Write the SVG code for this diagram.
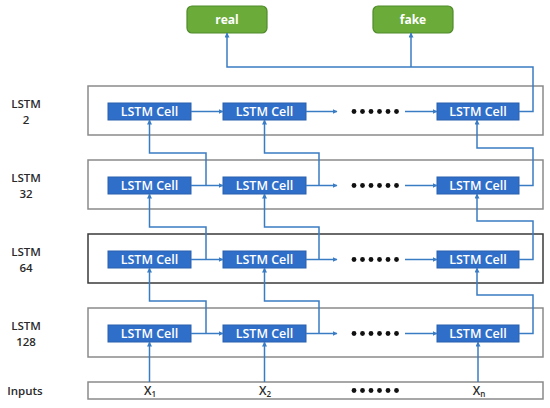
<svg xmlns="http://www.w3.org/2000/svg" width="550" height="408" viewBox="0 0 550 408">
<defs>
<marker id="ah" viewBox="0 0 10 10" refX="9" refY="5" markerWidth="5" markerHeight="5" markerUnits="userSpaceOnUse" orient="auto">
<path d="M0,0 L10,5 L0,10 z" fill="#3a7cc4"/>
</marker>
<style>
.layer{fill:#ffffff;stroke:#8a8a8a;stroke-width:1.5}
.layer.dark{stroke:#3a3a3a}
.cell{fill:#2f6ec9;stroke:#2a60ad;stroke-width:1}
.ct{font-family:"Open Sans","Liberation Sans",sans-serif;font-weight:600;font-size:12.5px;fill:#ffffff;text-anchor:middle}
.out{fill:#6aab3a;stroke:#4f8a2a;stroke-width:1.2}
.ot{font-family:"Open Sans","Liberation Sans",sans-serif;font-weight:700;font-size:12px;fill:#ffffff;text-anchor:middle}
.lbl{font-family:"Open Sans","Liberation Sans",sans-serif;font-weight:600;font-size:11.5px;fill:#2a2a2a;text-anchor:middle}
.xt{font-family:"Open Sans","Liberation Sans",sans-serif;font-weight:600;font-size:12px;fill:#2a2a2a;text-anchor:middle}
.con{fill:none;stroke:#3a7cc4;stroke-width:1.5}
.arr{marker-end:url(#ah)}
.dot{fill:#111111}
</style>
</defs>
<rect width="550" height="408" fill="#ffffff"/>

<g id="out-real"><rect class="out" x="187" y="6" width="80" height="27" rx="5"/><text class="ot" x="227" y="23.5">real</text></g>
<g id="out-fake"><rect class="out" x="373" y="6" width="80" height="27" rx="5"/><text class="ot" x="413" y="23.5">fake</text></g>

<g id="layer-2">
<text class="lbl" x="26" y="107.5">LSTM</text><text class="lbl" x="26" y="123.5">2</text>
<rect class="layer" x="88" y="86" width="455" height="49"/>
</g>
<g id="layer-32">
<text class="lbl" x="26" y="181.5">LSTM</text><text class="lbl" x="26" y="197.5">32</text>
<rect class="layer" x="88" y="160" width="455" height="49"/>
</g>
<g id="layer-64">
<text class="lbl" x="26" y="255.5">LSTM</text><text class="lbl" x="26" y="271.5">64</text>
<rect class="layer dark" x="88" y="234" width="455" height="49"/>
</g>
<g id="layer-128">
<text class="lbl" x="26" y="329.5">LSTM</text><text class="lbl" x="26" y="345.5">128</text>
<rect class="layer" x="88" y="308" width="455" height="49"/>
</g>
<g id="inputs">
<text class="lbl" x="25" y="394.5">Inputs</text>
<rect class="layer" x="88" y="382" width="455" height="17"/>
<text class="xt" x="150" y="395">X<tspan font-size="8" dy="2">1</tspan></text>
<text class="xt" x="265" y="395">X<tspan font-size="8" dy="2">2</tspan></text>
<text class="xt" x="479" y="395">X<tspan font-size="8" dy="2">n</tspan></text>
<g class="dot"><circle cx="354" cy="390.5" r="2.4"/><circle cx="362.5" cy="390.5" r="2.4"/><circle cx="371" cy="390.5" r="2.4"/><circle cx="379.5" cy="390.5" r="2.4"/><circle cx="388" cy="390.5" r="2.4"/><circle cx="396.5" cy="390.5" r="2.4"/></g>
</g>

<g id="cells-2">
<g id="c2-1"><rect class="cell" x="108" y="103" width="83" height="17"/><text class="ct" x="149.5" y="116">LSTM Cell</text></g>
<g id="c2-2"><rect class="cell" x="223" y="103" width="83" height="17"/><text class="ct" x="264.5" y="116">LSTM Cell</text></g>
<g id="c2-n"><rect class="cell" x="437" y="103" width="82" height="17"/><text class="ct" x="478" y="116">LSTM Cell</text></g>
<g class="dot"><circle cx="354" cy="111.5" r="2.4"/><circle cx="362.5" cy="111.5" r="2.4"/><circle cx="371" cy="111.5" r="2.4"/><circle cx="379.5" cy="111.5" r="2.4"/><circle cx="388" cy="111.5" r="2.4"/><circle cx="396.5" cy="111.5" r="2.4"/></g>
</g>
<g id="cells-32">
<g id="c32-1"><rect class="cell" x="108" y="177" width="83" height="17"/><text class="ct" x="149.5" y="190">LSTM Cell</text></g>
<g id="c32-2"><rect class="cell" x="223" y="177" width="83" height="17"/><text class="ct" x="264.5" y="190">LSTM Cell</text></g>
<g id="c32-n"><rect class="cell" x="437" y="177" width="82" height="17"/><text class="ct" x="478" y="190">LSTM Cell</text></g>
<g class="dot"><circle cx="354" cy="185.5" r="2.4"/><circle cx="362.5" cy="185.5" r="2.4"/><circle cx="371" cy="185.5" r="2.4"/><circle cx="379.5" cy="185.5" r="2.4"/><circle cx="388" cy="185.5" r="2.4"/><circle cx="396.5" cy="185.5" r="2.4"/></g>
</g>
<g id="cells-64">
<g id="c64-1"><rect class="cell" x="108" y="251" width="83" height="17"/><text class="ct" x="149.5" y="264">LSTM Cell</text></g>
<g id="c64-2"><rect class="cell" x="223" y="251" width="83" height="17"/><text class="ct" x="264.5" y="264">LSTM Cell</text></g>
<g id="c64-n"><rect class="cell" x="437" y="251" width="82" height="17"/><text class="ct" x="478" y="264">LSTM Cell</text></g>
<g class="dot"><circle cx="354" cy="259.5" r="2.4"/><circle cx="362.5" cy="259.5" r="2.4"/><circle cx="371" cy="259.5" r="2.4"/><circle cx="379.5" cy="259.5" r="2.4"/><circle cx="388" cy="259.5" r="2.4"/><circle cx="396.5" cy="259.5" r="2.4"/></g>
</g>
<g id="cells-128">
<g id="c128-1"><rect class="cell" x="108" y="325" width="83" height="17"/><text class="ct" x="149.5" y="338">LSTM Cell</text></g>
<g id="c128-2"><rect class="cell" x="223" y="325" width="83" height="17"/><text class="ct" x="264.5" y="338">LSTM Cell</text></g>
<g id="c128-n"><rect class="cell" x="437" y="325" width="82" height="17"/><text class="ct" x="478" y="338">LSTM Cell</text></g>
<g class="dot"><circle cx="354" cy="333.5" r="2.4"/><circle cx="362.5" cy="333.5" r="2.4"/><circle cx="371" cy="333.5" r="2.4"/><circle cx="379.5" cy="333.5" r="2.4"/><circle cx="388" cy="333.5" r="2.4"/><circle cx="396.5" cy="333.5" r="2.4"/></g>
</g>

<g id="connectors">
<path class="con arr" d="M519,111.5 H533 V67 H227 V33"/>
<path class="con arr" d="M411,67 V33"/>
<path class="con arr" d="M191,111.5 H223"/>
<path class="con arr" d="M306,111.5 H337"/>
<path class="con arr" d="M405,111.5 H437"/>
<path class="con arr" d="M191,185.5 H223"/>
<path class="con arr" d="M306,185.5 H337"/>
<path class="con arr" d="M405,185.5 H437"/>
<path class="con arr" d="M206,185.5 V153 H149.5 V120"/>
<path class="con arr" d="M319,185.5 V153 H264.5 V120"/>
<path class="con arr" d="M519,185.5 H533 V148 H477 V120"/>
<path class="con arr" d="M191,259.5 H223"/>
<path class="con arr" d="M306,259.5 H337"/>
<path class="con arr" d="M405,259.5 H437"/>
<path class="con arr" d="M206,259.5 V227 H149.5 V194"/>
<path class="con arr" d="M319,259.5 V227 H264.5 V194"/>
<path class="con arr" d="M519,259.5 H533 V221 H477 V194"/>
<path class="con arr" d="M191,333.5 H223"/>
<path class="con arr" d="M306,333.5 H337"/>
<path class="con arr" d="M405,333.5 H437"/>
<path class="con arr" d="M206,333.5 V301 H149.5 V268"/>
<path class="con arr" d="M319,333.5 V301 H264.5 V268"/>
<path class="con arr" d="M519,333.5 H533 V295 H477 V268"/>
<path class="con arr" d="M149.5,382 V342"/>
<path class="con arr" d="M264.5,382 V342"/>
<path class="con arr" d="M478,382 V342"/>
</g>
</svg>
